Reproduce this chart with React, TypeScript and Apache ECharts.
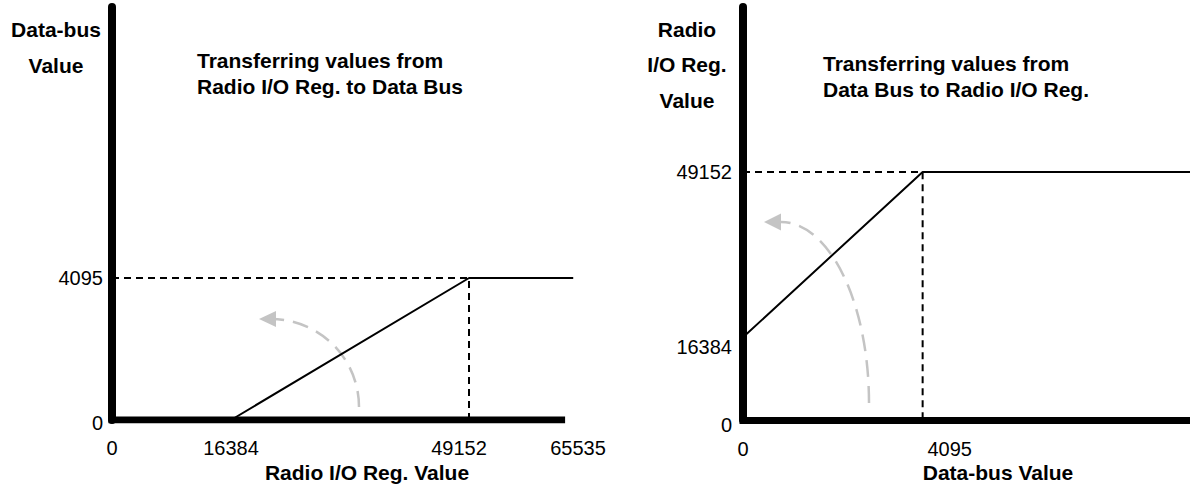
import React, { useEffect, useRef } from "react";
import * as echarts from "echarts";

// Transfer curve: Radio I/O register -> data bus
const leftCurveX = [0, 16384, 49152, 63500];
const leftCurveY = [0, 0, 4095, 4095];
const leftXTicks = [0, 16384, 49152, 65535];
const leftYTicks = [0, 4095];
const leftXMax = 65535;
const leftYMax = 11910;
const leftBaseEnd = 61900;

// Transfer curve: data bus -> Radio I/O register
const rightCurveX = [0, 4095, 10190];
const rightCurveY = [16384, 49152, 49152];
const rightXTicks = [0, 4095];
const rightYTicks = [0, 16384, 49152];
const rightXMax = 10190;
const rightYMax = 81850;

const FONT = '"Liberation Sans", Arial, Helvetica, sans-serif';
const ARROW_GREY = "#c4c4c4";

const zip = (xs: number[], ys: number[]) => xs.map((x, i) => [x, ys[i]]);

function buildOption() {
  const leftKnee = [leftCurveX[2], leftCurveY[2]];
  const rightKnee = [rightCurveX[1], rightCurveY[1]];

  const tickLabel = { color: "#000", fontSize: 20, fontFamily: FONT };
  const hidden = { show: false };

  return {
    animation: false,
    backgroundColor: "#fff",
    grid: [
      { left: 112, top: 7, width: 476, height: 413 },
      { left: 743, top: 7, width: 448, height: 413 },
    ],
    xAxis: [
      {
        type: "value",
        gridIndex: 0,
        min: 0,
        max: leftXMax,
        axisLine: hidden,
        axisTick: hidden,
        splitLine: hidden,
        axisLabel: {
          ...tickLabel,
          margin: 18,
          customValues: leftXTicks,
          formatter: (v: number) =>
            v === 49152 || v === 65535 ? `{l|${v}}` : `${v}`,
          rich: { l: { ...tickLabel, padding: [0, 20, 0, 0] } },
        },
      },
      {
        type: "value",
        gridIndex: 1,
        min: 0,
        max: rightXMax,
        axisLine: { show: true, lineStyle: { color: "#000", width: 7, cap: "square" } },
        axisTick: hidden,
        splitLine: hidden,
        axisLabel: {
          ...tickLabel,
          margin: 19,
          customValues: rightXTicks,
          formatter: (v: number) => (v === 4095 ? `{r|${v}}` : `${v}`),
          rich: { r: { ...tickLabel, padding: [0, 0, 0, 54] } },
        },
      },
    ],
    yAxis: [
      {
        type: "value",
        gridIndex: 0,
        min: 0,
        max: leftYMax,
        axisLine: { show: true, lineStyle: { color: "#000", width: 8 } },
        axisTick: hidden,
        splitLine: hidden,
        axisLabel: {
          ...tickLabel,
          margin: 9,
          customValues: leftYTicks,
          formatter: (v: number) => (v === 0 ? `{z|${v}}` : `${v}`),
          rich: { z: { ...tickLabel, padding: [6, 0, 0, 0] } },
        },
      },
      {
        type: "value",
        gridIndex: 1,
        min: 0,
        max: rightYMax,
        axisLine: { show: true, lineStyle: { color: "#000", width: 8 } },
        axisTick: hidden,
        splitLine: hidden,
        axisLabel: {
          ...tickLabel,
          margin: 11,
          customValues: rightYTicks,
          formatter: (v: number) =>
            v === 16384 ? `{d|${v}}` : v === 0 ? `{z|${v}}` : `${v}`,
          rich: {
            d: { ...tickLabel, padding: [20, 0, 0, 0] },
            z: { ...tickLabel, padding: [10, 0, 0, 0] },
          },
        },
      },
    ],
    series: [
      {
        type: "line",
        xAxisIndex: 0,
        yAxisIndex: 0,
        symbol: "none",
        silent: true,
        data: zip(leftCurveX, leftCurveY),
        lineStyle: { color: "#000", width: 2 },
        z: 3,
      },
      {
        type: "line",
        xAxisIndex: 0,
        yAxisIndex: 0,
        symbol: "none",
        silent: true,
        data: [[0, leftKnee[1]], leftKnee, [leftKnee[0], 0]],
        lineStyle: { color: "#000", width: 2, type: [7, 5] },
        z: 3,
      },
      {
        type: "line",
        xAxisIndex: 0,
        yAxisIndex: 0,
        symbol: "none",
        silent: true,
        data: [
          [0, 0],
          [leftBaseEnd, 0],
        ],
        lineStyle: { color: "#000", width: 7, cap: "square" },
        z: 4,
      },
      {
        type: "line",
        xAxisIndex: 1,
        yAxisIndex: 1,
        symbol: "none",
        silent: true,
        data: zip(rightCurveX, rightCurveY),
        lineStyle: { color: "#000", width: 2 },
        z: 3,
      },
      {
        type: "line",
        xAxisIndex: 1,
        yAxisIndex: 1,
        symbol: "none",
        silent: true,
        data: [[0, rightKnee[1]], rightKnee, [rightKnee[0], 0]],
        lineStyle: { color: "#000", width: 2, type: [7, 5] },
        z: 3,
      },
    ],
    graphic: [
      // curved direction arrows
      {
        type: "bezierCurve",
        z: 1,
        silent: true,
        shape: { x1: 359, y1: 407, cpx1: 359, cpy1: 358.4, cpx2: 319.6, cpy2: 319, x2: 271, y2: 319 },
        style: { stroke: ARROW_GREY, lineWidth: 2.5, lineDash: [16, 9], fill: null },
      },
      {
        type: "polygon",
        z: 1,
        silent: true,
        shape: { points: [[259, 319], [276, 311], [276, 327]] },
        style: { fill: ARROW_GREY },
      },
      {
        type: "bezierCurve",
        z: 1,
        silent: true,
        shape: { x1: 869, y1: 403, cpx1: 869, cpy1: 303, cpx2: 829.6, cpy2: 222, x2: 781, y2: 222 },
        style: { stroke: ARROW_GREY, lineWidth: 2.5, lineDash: [17, 9], fill: null },
      },
      {
        type: "polygon",
        z: 1,
        silent: true,
        shape: { points: [[764, 222], [781, 213.5], [781, 230.5]] },
        style: { fill: ARROW_GREY },
      },
      // axis names and panel titles
      {
        type: "text",
        x: 56,
        y: 47,
        style: {
          text: "Data-bus\nValue",
          fontFamily: FONT,
          fontWeight: "bold",
          fontSize: 21,
          lineHeight: 36,
          fill: "#000",
          align: "center",
          verticalAlign: "middle",
        },
      },
      {
        type: "text",
        x: 197,
        y: 73,
        style: {
          text: "Transferring values from\nRadio I/O Reg. to Data Bus",
          fontFamily: FONT,
          fontWeight: "bold",
          fontSize: 21,
          lineHeight: 26,
          fill: "#000",
          align: "left",
          verticalAlign: "middle",
        },
      },
      {
        type: "text",
        x: 367,
        y: 472,
        style: {
          text: "Radio I/O Reg. Value",
          fontFamily: FONT,
          fontWeight: "bold",
          fontSize: 21,
          fill: "#000",
          align: "center",
          verticalAlign: "middle",
        },
      },
      {
        type: "text",
        x: 687,
        y: 64.5,
        style: {
          text: "Radio\nI/O Reg.\nValue",
          fontFamily: FONT,
          fontWeight: "bold",
          fontSize: 21,
          lineHeight: 35.5,
          fill: "#000",
          align: "center",
          verticalAlign: "middle",
        },
      },
      {
        type: "text",
        x: 823,
        y: 76,
        style: {
          text: "Transferring values from\nData Bus to Radio I/O Reg.",
          fontFamily: FONT,
          fontWeight: "bold",
          fontSize: 21,
          lineHeight: 26,
          fill: "#000",
          align: "left",
          verticalAlign: "middle",
        },
      },
      {
        type: "text",
        x: 998,
        y: 472,
        style: {
          text: "Data-bus Value",
          fontFamily: FONT,
          fontWeight: "bold",
          fontSize: 21,
          fill: "#000",
          align: "center",
          verticalAlign: "middle",
        },
      },
    ],
  };
}

export default function App() {
  const ref = useRef<HTMLDivElement>(null);

  useEffect(() => {
    document.body.style.margin = "0";
    if (!ref.current) return;
    const chart = echarts.init(ref.current, null, { renderer: "svg" });
    chart.setOption(buildOption() as any);
    return () => chart.dispose();
  }, []);

  return <div ref={ref} style={{ width: 1190, height: 487 }} />;
}
